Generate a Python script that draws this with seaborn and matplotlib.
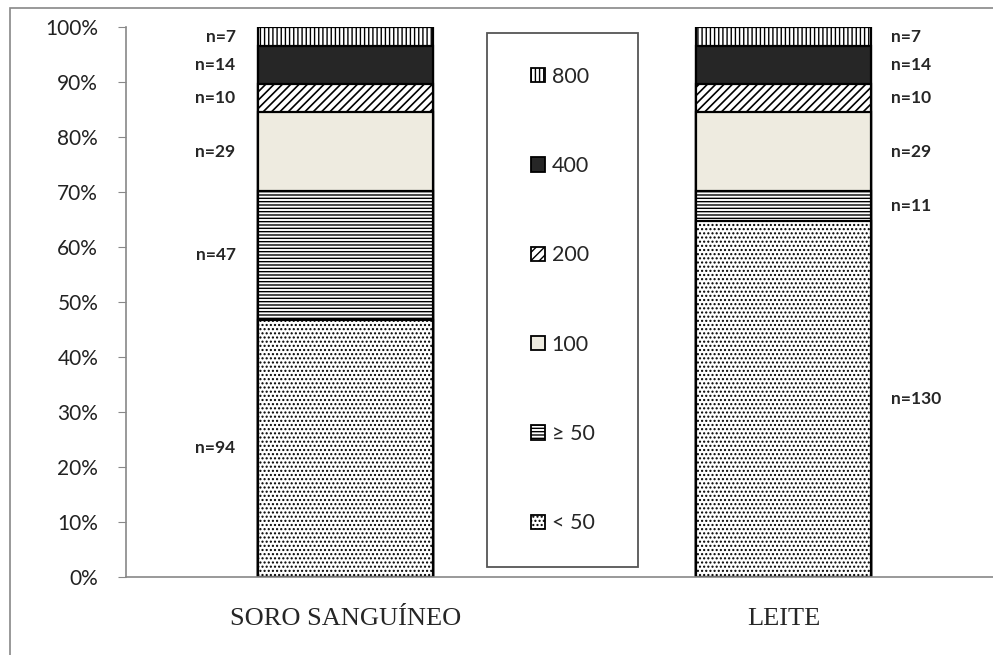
import numpy as np
import pandas as pd
import seaborn as sns
import matplotlib.pyplot as plt
from matplotlib.patches import Patch, Rectangle

# dados (contagens por título)
amostras = ["SORO SANGUÍNEO", "LEITE"]
titulos = ["< 50", "≥ 50", "100", "200", "400", "800"]
n_soro = [94, 47, 29, 10, 14, 7]
n_leite = [130, 11, 29, 10, 14, 7]
yticks_lbl = ["0%", "10%", "20%", "30%", "40%", "50%", "60%", "70%", "80%", "90%", "100%"]

# estilo de cada faixa (ordem de titulos)
cores = ["white", "white", "#EEEBE0", "white", "#262626", "white"]
hachuras = ["....", "-----", None, "////", None, "||||"]
hatch_lw = [1.0, 1.0, 1.0, 1.2, 1.0, 1.0]

def main():
    sns.set_style("white")
    plt.rcParams["font.family"] = ["Lato", "DejaVu Sans"]

    cont = np.array([n_soro, n_leite], dtype=float)
    pct = cont / cont.sum(axis=1, keepdims=True) * 100
    acum = pct.cumsum(axis=1)

    fig = plt.figure(figsize=(9.93, 6.55), dpi=100)
    ax = fig.add_axes([126 / 993, 78 / 655, 877 / 993, 550 / 655])

    # barras sobrepostas (do total acumulado para baixo)
    for i in reversed(range(len(titulos))):
        d = pd.DataFrame({"amostra": amostras, "pct": acum[:, i]})
        with plt.rc_context({"hatch.linewidth": hatch_lw[i]}):
            sns.barplot(data=d, x="amostra", y="pct", color=cores[i], saturation=1,
                        width=0.4, hatch=hachuras[i], edgecolor="black",
                        linewidth=1.6, errorbar=None, ax=ax)

    # rótulos n=
    for j, valores in enumerate([n_soro, n_leite]):
        base = 0
        for i, v in enumerate(valores):
            meio = base + pct[j, i] / 2
            base += pct[j, i]
            if j == 0:
                ax.text(-0.25, meio, f"n={v}", ha="right", va="center",
                        fontsize=12.5, fontweight="bold")
            else:
                ax.text(1.245, meio, f"n={v}", ha="left", va="center",
                        fontsize=12.5, fontweight="bold")

    ax.set_xlim(-0.5, 1.5)
    ax.set_ylim(0, 100)
    ax.set_yticks(np.arange(0, 101, 10))
    ax.set_yticklabels(yticks_lbl, fontsize=15, color="#222222")
    ax.set_xticks([-0.5, 0.5, 1.5])
    ax.set_xticklabels([])
    ax.set_xticks([0, 1], minor=True)
    ax.set_xticklabels(amostras, minor=True, fontsize=19,
                       family=["Liberation Serif"])
    ax.tick_params(axis="x", which="minor", length=0, pad=22)
    ax.tick_params(axis="x", which="major", length=6, color="#888888", direction="out")
    ax.tick_params(axis="y", length=6, color="#888888", direction="out", pad=14, left=True)
    ax.set_xlabel("")
    ax.set_ylabel("")
    for s in ["top", "right"]:
        ax.spines[s].set_visible(False)
    for s in ["left", "bottom"]:
        ax.spines[s].set_color("#888888")
        ax.spines[s].set_linewidth(1.2)

    # legenda em caixa central
    caixa = Rectangle((487 / 993, (655 - 567) / 655), 151 / 993, 534 / 655,
                      transform=fig.transFigure, facecolor="white",
                      edgecolor="#555555", linewidth=1.3, zorder=5)
    fig.add_artist(caixa)
    handles = [Patch(facecolor=cores[i], edgecolor="black", hatch=hachuras[i],
                     linewidth=1.3, label=titulos[i])
               for i in reversed(range(len(titulos)))]
    leg = fig.legend(handles=handles, loc="center",
                     bbox_to_anchor=(563 / 993, (655 - 300) / 655),
                     frameon=False, fontsize=15.5, labelspacing=3.22,
                     handlelength=0.65, handleheight=0.65, handletextpad=0.3)
    leg.set_zorder(6)

    # moldura da figura
    fig.add_artist(Rectangle((10 / 993, -0.05), 1.1, (655 - 8) / 655 + 0.05,
                             transform=fig.transFigure, fill=False,
                             edgecolor="#888888", linewidth=1.2))

    fig.savefig("out.png", dpi=100)

if __name__ == "__main__":
    main()
